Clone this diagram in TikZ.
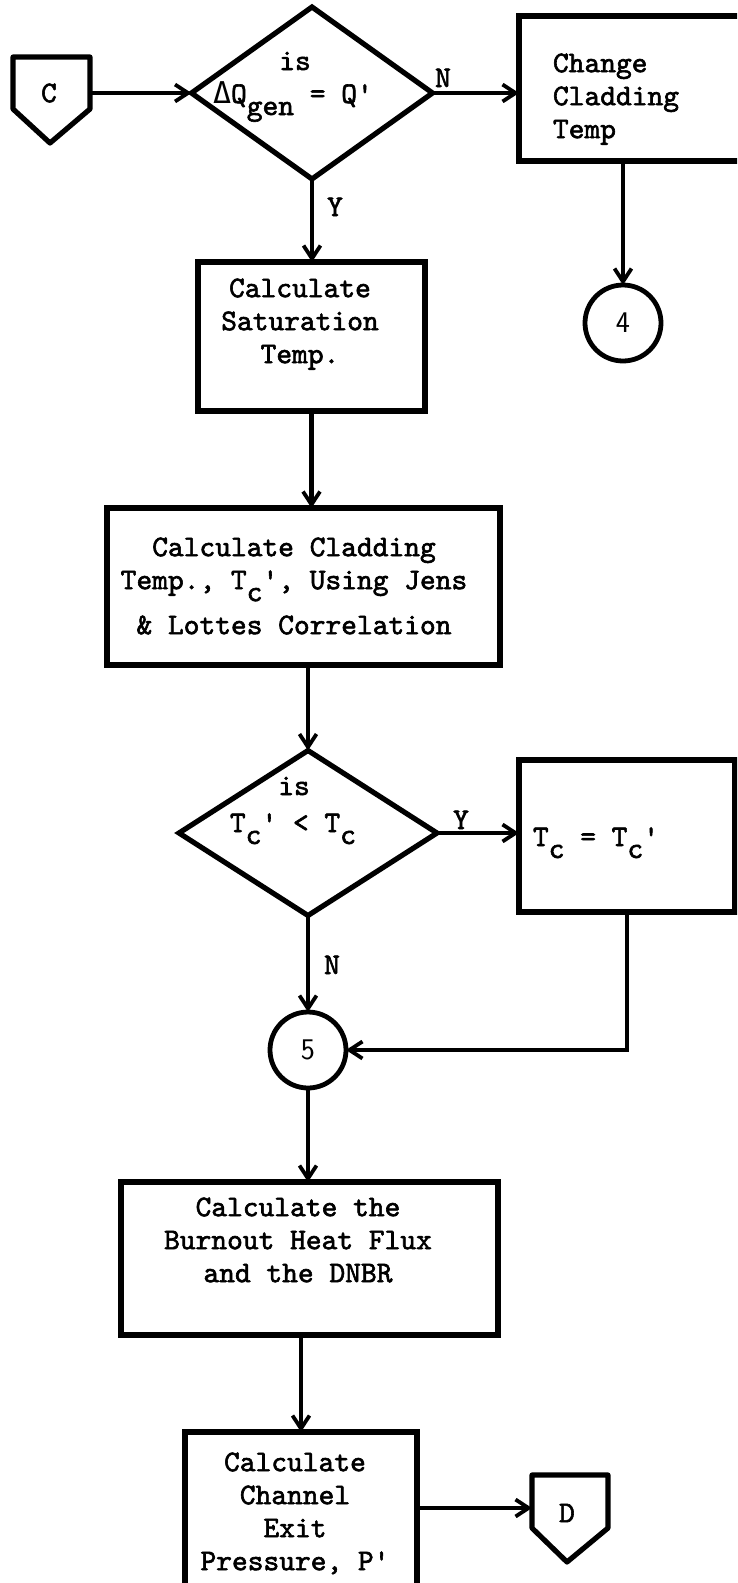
\documentclass[tikz,border=0pt]{standalone}
\usepackage{fontspec}
\newfontfamily\twfont{lmmono10-regular.otf}[FakeBold=2]
\newfontfamily\symfont{DejaVu Sans Mono}
\usetikzlibrary{arrows.meta,shapes.geometric,calc}
\newcommand\qtick{\textquotesingle}
\newcommand\subtw[1]{\raisebox{-12pt}{#1}}
\newcommand\dQ{{\symfont\char"0394}}
\begin{document}
\begin{tikzpicture}[x=1pt,y=-1pt,
  every node/.style={font=\twfont\fontsize{30}{33}\selectfont, inner sep=0pt, outer sep=0pt},
  boxst/.style={draw, rectangle, line width=5.2pt},
  dshape/.style={draw, diamond, line width=5.2pt},
  circ/.style={draw, circle, line width=4.8pt, minimum size=76pt},
  shp/.style={line width=5.2pt, line join=round},
  arr/.style={line width=4.3pt, -{Straight Barb[length=13pt,width=17pt,line width=3.8pt]}},
  lbl/.style={anchor=base},
  txt/.style={anchor=north, align=center}
]
\path[use as bounding box] (0,0) rectangle (737,1583);
\clip (0,0) rectangle (737,1583);

% connector C
\node (C) at (49,93) {C};
\draw[shp] ($(C)+(-36,-36)$) -- ($(C)+(41,-36)$) -- ($(C)+(41,16)$)
  -- ($(C)+(1,50)$) -- ($(C)+(-36,16)$) -- cycle;
\coordinate (Cout) at ($(C)+(41,0)$);

% first decision
\node[dshape, minimum width=241pt, minimum height=172pt] (d1) at (312,93) {};
\node[lbl] (d1a) at (295,70) {is};
\node[anchor=base west] (d1b) at (213,103) {\dQ Q\subtw{gen} = Q\qtick};
\node[lbl] (n1) at (443,87) {N};
\node[lbl] (y1) at (335,216) {Y};

% change cladding temperature
\node[boxst, minimum width=226pt, minimum height=145pt] (b1) at (632,88.5) {};
\node[anchor=north west, align=left] (b1t) at (553,53.5) {Change\\Cladding\\Temp};
\node[circ] (c4) at (623,323) {\sffamily 4};

% saturation temperature
\node[boxst, minimum width=227pt, minimum height=149pt] (b2) at (311.5,336.5) {};
\node[txt] (b2t) at (300,278.5) {Calculate\\Saturation\\Temp.};

% cladding temperature
\node[boxst, minimum width=393pt, minimum height=157pt] (b3) at (303.5,586.5) {};
\node[txt] (b3t) at (294,537.5) {Calculate Cladding\\Temp., T\subtw{c}\qtick, Using Jens\\[12pt]\& Lottes Correlation};

% second decision
\node[dshape, minimum width=258pt, minimum height=165pt] (d2) at (308,833) {};
\node[lbl] (d2a) at (294,795) {is};
\node[anchor=base west] (d2b) at (230,832) {T\subtw{c}\qtick\ < T\subtw{c}};
\node[lbl] (y2) at (461,829) {Y};
\node[lbl] (n2) at (332,974) {N};

% update cladding temperature
\node[boxst, minimum width=216pt, minimum height=152pt] (b4) at (627,836) {};
\node[anchor=base west] (b4t) at (533,846) {T\subtw{c} = T\subtw{c}\qtick};

\node[circ] (c5) at (308,1050) {\sffamily 5};

% burnout heat flux
\node[boxst, minimum width=377pt, minimum height=153pt] (b5) at (309.5,1258.5) {};
\node[txt] (b5t) at (298,1197.5) {Calculate the\\Burnout Heat Flux\\and the DNBR};

% exit pressure
\node[boxst, minimum width=232pt, minimum height=168pt] (b6) at (301,1516) {};
\node[txt] (b6t) at (295,1452.5) {Calculate\\Channel\\Exit\\Pressure, P\qtick};

% connector D
\node (D) at (567,1513) {D};
\draw[shp] ($(D)+(-35,-38)$) -- ($(D)+(41,-38)$) -- ($(D)+(41,15)$)
  -- ($(D)+(0,49)$) -- ($(D)+(-35,15)$) -- cycle;
\coordinate (Din) at ($(D)+(-35,-5)$);

% flow lines
\draw[arr] (Cout) -- (d1.west);
\draw[arr] (d1.east) -- (d1.east -| b1.west);
\draw[arr] (c4.north |- b1.south) -- (c4.north);
\draw[arr] (d1.south) -- (d1.south |- b2.north);
\draw[arr] (b2.south) -- (b2.south |- b3.north);
\draw[arr] (d2.north |- b3.south) -- (d2.north);
\draw[arr] (d2.east) -- (d2.east -| b4.west);
\draw[arr] (d2.south) -- (c5.north);
\draw[arr] (b4.south) |- (c5.east);
\draw[arr] (c5.south) -- (c5.south |- b5.north);
\draw[arr] (b6.north |- b5.south) -- (b6.north);
\draw[arr] (Din -| b6.east) -- (Din);
\end{tikzpicture}
\end{document}
